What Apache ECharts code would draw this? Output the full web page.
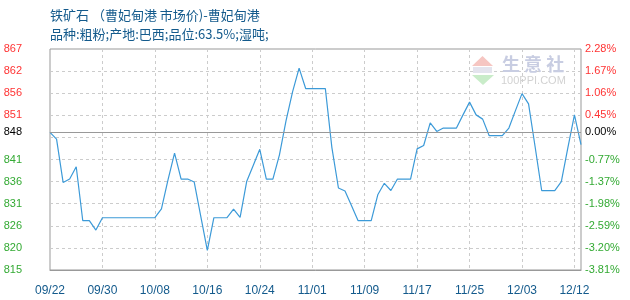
<!DOCTYPE html>
<html>
<head>
<meta charset="utf-8">
<script src="https://cdn.jsdelivr.net/npm/echarts@6/dist/echarts.min.js"></script>
<style>html,body{margin:0;padding:0;background:#fff}#c{width:630px;height:300px}</style>
</head>
<body>
<div id="c"></div>
<script>
const titleText = '铁矿石 （曹妃甸港 市场价)-曹妃甸港';
const subText = '品种:粗粉;产地:巴西;品位:63.5%;湿吨;';
const dates = ['09/22','09/23','09/24','09/25','09/26','09/27','09/28','09/29','09/30',
'10/01','10/02','10/03','10/04','10/05','10/06','10/07','10/08','10/09','10/10','10/11','10/12','10/13','10/14','10/15','10/16','10/17','10/18','10/19','10/20','10/21','10/22','10/23','10/24','10/25','10/26','10/27','10/28','10/29','10/30','10/31',
'11/01','11/02','11/03','11/04','11/05','11/06','11/07','11/08','11/09','11/10','11/11','11/12','11/13','11/14','11/15','11/16','11/17','11/18','11/19','11/20','11/21','11/22','11/23','11/24','11/25','11/26','11/27','11/28','11/29','11/30',
'12/01','12/02','12/03','12/04','12/05','12/06','12/08','12/09','12/10','12/11','12/12','12/13'];
const prices = [847.4, 845.8, 835.6, 836.4, 839.3, 826.6, 826.6, 824.4, 827.3, 827.3,
827.3, 827.3, 827.3, 827.3, 827.3, 827.3, 827.3, 829.4, 836.2, 842.5,
836.4, 836.4, 835.7, 827.6, 819.6, 827.3, 827.3, 827.3, 829.3, 827.4,
835.8, 839.6, 843.4, 836.4, 836.4, 842.1, 850.1, 856.9, 862.5, 857.7,
857.7, 857.7, 857.7, 843.8, 834.3, 833.6, 830.1, 826.6, 826.6, 826.6,
832.7, 835.4, 833.7, 836.4, 836.4, 836.4, 843.5, 844.3, 849.6, 847.6,
848.4, 848.4, 848.4, 851.5, 854.5, 851.5, 850.5, 846.6, 846.6, 846.6,
848.4, 852.5, 856.5, 854.1, 844.0, 833.7, 833.7, 833.7, 835.8, 843.8,
851.5, 844.5];
const baseValue = 847.4;
const baseLabel = '848';
const basePct = '0.00%';
const priceMin = 815, priceMax = 867;
// tick labels top to bottom (index 4 is the unlabeled gridline)
const leftTicks = ['867','862','856','851','','841','836','831','826','820','815'];
const rightTicks = ['2.28%','1.67%','1.06%','0.45%','','-0.77%','-1.37%','-1.98%','-2.59%','-3.20%','-3.81%'];

const RED = '#ff3333', GREEN = '#33aa33', BLUE = '#135a8c';
const numFont = 'Liberation Sans';
const n = leftTicks.length - 1;

const chart = echarts.init(document.getElementById('c'), null, {renderer: 'canvas'});
chart.setOption({
  animation: false,
  backgroundColor: '#fff',
  title: {
    text: titleText, subtext: subText, left: 45, top: 4, itemGap: 6,
    textStyle: {fontSize: 13, fontWeight: 'normal', color: BLUE, fontFamily: 'Noto Sans CJK SC'},
    subtextStyle: {fontSize: 13, color: BLUE, fontFamily: 'Noto Sans CJK SC'}
  },
  grid: {left: 50, top: 49, width: 531, height: 221, show: true, borderColor: '#999', borderWidth: 1, backgroundColor: 'transparent'},
  graphic: [
    {type: 'polygon', shape: {points: [[472, 66], [482.5, 56], [493, 66]]}, style: {fill: '#f6c6c2'}, silent: true, z: 1},
    {type: 'rect', shape: {x: 473, y: 67, width: 19, height: 6}, style: {fill: '#e4e4ee'}, silent: true, z: 1},
    {type: 'polygon', shape: {points: [[472, 75], [494, 75], [483, 85]]}, style: {fill: '#c9ecc9'}, silent: true, z: 1},
    {type: 'text', left: 502, top: 55, style: {text: '生 意 社', fontSize: 18, fill: '#c8cde2', fontFamily: 'Noto Sans CJK SC', fontWeight: 'bold'}, silent: true, z: 1},
    {type: 'text', left: 501, top: 75, style: {text: '100PPI.COM', fontSize: 11, fill: '#d2d2d2', fontFamily: numFont}, silent: true, z: 1}
  ],
  xAxis: {
    type: 'category', data: dates, boundaryGap: false,
    axisLine: {show: true, lineStyle: {color: '#999'}},
    axisTick: {show: false},
    axisLabel: {interval: 7, color: BLUE, fontSize: 12, fontFamily: numFont, margin: 15},
    splitLine: {show: true, interval: 7, showMinLine: false, lineStyle: {color: '#ccc', type: [3, 3]}}
  },
  yAxis: [
    {type: 'value', min: priceMin, max: priceMax, show: false},
    {type: 'value', min: 0, max: n, interval: 1, position: 'left',
      axisLine: {show: false}, axisTick: {show: false},
      axisLabel: {margin: 28, fontSize: 11, fontFamily: numFont,
        formatter: v => leftTicks[n - v],
        color: (v) => (n - v) < 4 ? RED : GREEN},
      splitLine: {show: true, showMinLine: false, showMaxLine: false, lineStyle: {color: '#ccc', type: [3, 3]}}},
    {type: 'value', min: 0, max: n, interval: 1, position: 'right',
      axisLine: {show: false}, axisTick: {show: false},
      axisLabel: {margin: 4, fontSize: 11, fontFamily: numFont, align: 'left',
        formatter: v => rightTicks[n - v],
        color: (v) => (n - v) < 4 ? RED : GREEN},
      splitLine: {show: false}}
  ],
  series: [{
    type: 'line', data: prices, yAxisIndex: 0, showSymbol: false,
    lineStyle: {color: '#3c9ad8', width: 1.2},
    itemStyle: {color: '#3c9ad8'},
    z: 3,
    markLine: {
      silent: true, symbol: 'none', animation: false,
      lineStyle: {color: '#999', type: 'solid', width: 1},
      data: [
        {yAxis: baseValue, label: {show: true, position: 'start', formatter: baseLabel, distance: 28, color: '#000', fontSize: 11, fontFamily: numFont}},
        {yAxis: baseValue, label: {show: true, position: 'end', formatter: basePct, distance: 4, color: '#000', fontSize: 11, fontFamily: numFont}}
      ]
    }
  }]
});
</script>
</body>
</html>
